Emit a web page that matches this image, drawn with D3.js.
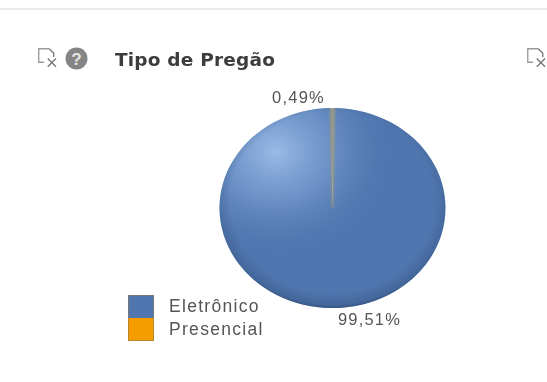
<!DOCTYPE html>
<html>
<head>
<meta charset="utf-8">
<script src="https://cdn.jsdelivr.net/npm/d3@7/dist/d3.min.js"></script>
<style>
html,body{margin:0;padding:0;background:#fff;overflow:hidden}
svg{display:block}
text{font-family:"Liberation Sans",Arial,sans-serif}
</style>
</head>
<body>
<div id="chart"></div>
<script>
const title = "Tipo de Pregão";
const categories = ["Presencial", "Eletrônico"];
const shares = [0.49, 99.51];
const shareLabels = ["0,49%", "99,51%"];
const legendOrder = ["Eletrônico", "Presencial"];
const legendColors = ["#4f76ae", "#f59c00"];
const sliceColors = ["#8f9284", "#4f76ae"];

const W = 547, H = 382;
const svg = d3.select("#chart").append("svg").attr("width", W).attr("height", H);
const defs = svg.append("defs");

const soft = defs.append("filter").attr("id", "soft")
  .attr("x", "-5%").attr("y", "-5%").attr("width", "110%").attr("height", "110%");
soft.append("feGaussianBlur").attr("stdDeviation", 0.7);

const textSoft = defs.append("filter").attr("id", "textSoft")
  .attr("x", "-5%").attr("y", "-20%").attr("width", "110%").attr("height", "140%");
textSoft.append("feGaussianBlur").attr("stdDeviation", 0.35);

const sliceBlur = defs.append("filter").attr("id", "sliceBlur")
  .attr("filterUnits", "userSpaceOnUse")
  .attr("x", -30).attr("y", -110).attr("width", 60).attr("height", 130);
sliceBlur.append("feGaussianBlur").attr("stdDeviation", 0.8);

// Keeps the softened slice inside the pie outline
const pieClip = defs.append("clipPath").attr("id", "pieClip");

// Glossy highlight on the upper left of the pie
const gloss = defs.append("radialGradient").attr("id", "gloss")
  .attr("cx", 0.25).attr("cy", 0.22).attr("r", 0.5);
gloss.append("stop").attr("offset", 0).attr("stop-color", "#b4d2fa").attr("stop-opacity", 0.75);
gloss.append("stop").attr("offset", 0.5).attr("stop-color", "#8fb4e6").attr("stop-opacity", 0.42);
gloss.append("stop").attr("offset", 1).attr("stop-color", "#5f86bd").attr("stop-opacity", 0);

// Darkened rim around the pie
const rim = defs.append("radialGradient").attr("id", "rim")
  .attr("cx", 0.5).attr("cy", 0.47).attr("r", 0.54);
rim.append("stop").attr("offset", 0.84).attr("stop-color", "#2a4670").attr("stop-opacity", 0);
rim.append("stop").attr("offset", 0.95).attr("stop-color", "#2a4670").attr("stop-opacity", 0.3);
rim.append("stop").attr("offset", 1).attr("stop-color", "#22385c").attr("stop-opacity", 0.75);

// Header rule
svg.append("rect").attr("x", 0).attr("y", 8).attr("width", W).attr("height", 2)
  .attr("fill", "#e9e9e6");

// Export and help icons
function exportIcon(x, y) {
  const g = svg.append("g").attr("transform", `translate(${x},${y}) scale(1.5)`)
    .attr("fill", "none").attr("stroke", "#9a9a9a").attr("stroke-width", 0.9);
  g.append("path").attr("d", "M7.5,0.5H0.5V9.5H4");
  g.append("path").attr("d", "M7.5,0.5L10.5,3.5V6").attr("stroke", "#777");
  g.append("path").attr("d", "M6.5,7L12,12.5M12,7L6.5,12.5").attr("stroke", "#777");
}
exportIcon(38, 48);
exportIcon(527, 48);

svg.append("circle").attr("cx", 76.5).attr("cy", 58.5).attr("r", 11).attr("fill", "#858585");
svg.append("text").attr("x", 76.5).attr("y", 64.5).attr("text-anchor", "middle")
  .attr("font-size", 17).attr("font-weight", 700).attr("fill", "#e6e6e6").text("?");

svg.append("text").attr("x", 115).attr("y", 66)
  .style("font-family", "'DejaVu Sans',Verdana,sans-serif")
  .attr("font-size", 18.5).attr("font-weight", 700).attr("letter-spacing", 0.2)
  .attr("fill", "#3c3c3c").attr("filter", "url(#textSoft)").text(title);

// Pie, squeezed slightly so that it draws as an ellipse
const cx = 332.5, cy = 208, rx = 113, ry = 100;
const pie = d3.pie().sort(null).value(d => d).startAngle(-0.0154).endAngle(2 * Math.PI - 0.0154);
const arc = d3.arc().innerRadius(0).outerRadius(ry);
const arcs = pie(shares);

pieClip.append("circle").attr("r", ry);

const pieG = svg.append("g")
  .attr("transform", `translate(${cx},${cy}) scale(${rx / ry},1)`);

pieG.append("g").attr("filter", "url(#soft)").selectAll("path")
  .data([arcs[1]]).join("path")
  .attr("d", arc)
  .attr("fill", sliceColors[1]);
pieG.append("circle").attr("r", ry).attr("fill", "url(#gloss)");
pieG.append("circle").attr("r", ry).attr("fill", "url(#rim)");
pieG.append("g").attr("clip-path", "url(#pieClip)")
  .append("path").datum(arcs[0]).attr("d", arc)
  .attr("fill", sliceColors[0])
  .attr("stroke", sliceColors[0]).attr("stroke-width", 1.6)
  .attr("filter", "url(#sliceBlur)");

// Value labels
const labelPos = [[298.5, 102.5], [369.5, 324.5]];
svg.append("g").selectAll("text").data(shareLabels).join("text")
  .attr("x", (d, i) => labelPos[i][0]).attr("y", (d, i) => labelPos[i][1])
  .attr("text-anchor", "middle").attr("filter", "url(#textSoft)")
  .attr("font-size", 16.5).attr("letter-spacing", 1.2).attr("fill", "#555").text(d => d);

// Legend
const legend = svg.append("g").selectAll("g").data(legendOrder).join("g")
  .attr("transform", (d, i) => `translate(128,${295 + i * 23})`);
legend.append("rect").attr("width", 26).attr("height", 23)
  .attr("fill", (d, i) => legendColors[i]);
legend.append("text").attr("x", 41).attr("y", (d, i) => i ? 17 : 17)
  .attr("font-size", 17.5).attr("letter-spacing", 1.3).attr("fill", "#555")
  .attr("filter", "url(#textSoft)").text(d => d);
svg.append("rect").attr("x", 128.5).attr("y", 295.5).attr("width", 25).attr("height", 45)
  .attr("fill", "none").attr("stroke", "#8a7a50").attr("stroke-opacity", 0.6);
</script>
</body>
</html>
